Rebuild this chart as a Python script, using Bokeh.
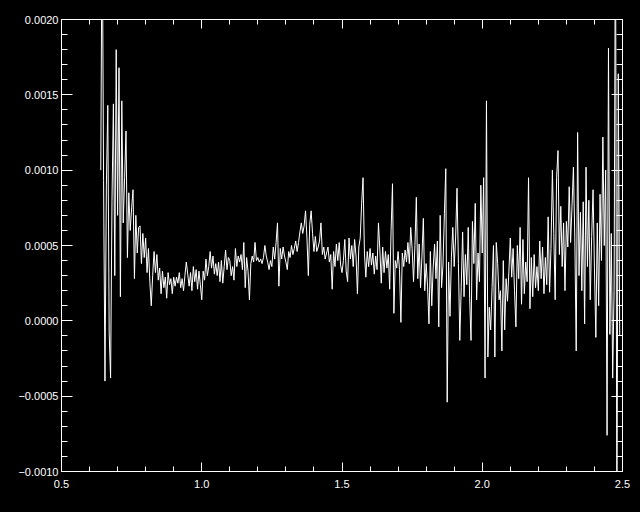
from bokeh.plotting import figure
from bokeh.models import Range1d, FixedTicker, LinearAxis, CustomJSTickFormatter
from bokeh.embed import file_html
from bokeh.resources import INLINE
import numpy as np

# wavelength samples (x)
wavelength = [
    0.640, 0.645, 0.650, 0.655, 0.660, 0.665, 0.670, 0.675, 0.680, 0.685, 0.690, 0.695,
    0.700, 0.705, 0.710, 0.715, 0.720, 0.725, 0.730, 0.735, 0.740, 0.745, 0.750, 0.755, 0.760, 0.765, 0.770, 0.775, 0.780, 0.785, 0.790, 0.795,
    0.800, 0.805, 0.810, 0.815, 0.820, 0.825, 0.830, 0.835, 0.840, 0.845, 0.850, 0.855, 0.860, 0.865, 0.870, 0.875, 0.880, 0.885, 0.890, 0.895,
    0.900, 0.905, 0.910, 0.915, 0.920, 0.925, 0.930, 0.935, 0.940, 0.945, 0.950, 0.955, 0.960, 0.965, 0.970, 0.975, 0.980, 0.985, 0.990, 0.995,
    1.000, 1.005, 1.010, 1.015, 1.020, 1.025, 1.030, 1.035, 1.040, 1.045, 1.050, 1.055, 1.060, 1.065, 1.070, 1.075, 1.080, 1.085, 1.090, 1.095,
    1.100, 1.105, 1.110, 1.115, 1.120, 1.125, 1.130, 1.135, 1.140, 1.145, 1.150, 1.155, 1.160, 1.165, 1.170, 1.175, 1.180, 1.185, 1.190, 1.195,
    1.200, 1.205, 1.210, 1.215, 1.220, 1.225, 1.230, 1.235, 1.240, 1.245, 1.250, 1.255, 1.260, 1.265, 1.270, 1.275, 1.280, 1.285, 1.290, 1.295,
    1.300, 1.305, 1.310, 1.315, 1.320, 1.325, 1.330, 1.335, 1.340, 1.345, 1.350, 1.355, 1.360, 1.365, 1.370, 1.375, 1.380, 1.385, 1.390, 1.395,
    1.400, 1.405, 1.410, 1.415, 1.420, 1.425, 1.430, 1.435, 1.440, 1.445, 1.450, 1.455, 1.460, 1.465, 1.470, 1.475, 1.480, 1.485, 1.490, 1.495,
    1.500, 1.505, 1.510, 1.515, 1.520, 1.525, 1.530, 1.535, 1.540, 1.545, 1.550, 1.555, 1.560, 1.565, 1.570, 1.575, 1.580, 1.585, 1.590, 1.595,
    1.600, 1.605, 1.610, 1.615, 1.620, 1.625, 1.630, 1.635, 1.640, 1.645, 1.650, 1.655, 1.660, 1.665, 1.670, 1.675, 1.680, 1.685, 1.690, 1.695,
    1.700, 1.705, 1.710, 1.715, 1.720, 1.725, 1.730, 1.735, 1.740, 1.745, 1.750, 1.755, 1.760, 1.765, 1.770, 1.775, 1.780, 1.785, 1.790, 1.795,
    1.800, 1.805, 1.810, 1.815, 1.820, 1.825, 1.830, 1.835, 1.840, 1.845, 1.850, 1.855, 1.860, 1.865, 1.870, 1.875, 1.880, 1.885, 1.890, 1.895,
    1.900, 1.905, 1.910, 1.915, 1.920, 1.925, 1.930, 1.935, 1.940, 1.945, 1.950, 1.955, 1.960, 1.965, 1.970, 1.975, 1.980, 1.985, 1.990, 1.995,
    2.000, 2.005, 2.010, 2.015, 2.020, 2.025, 2.030, 2.035, 2.040, 2.045, 2.050, 2.055, 2.060, 2.065, 2.070, 2.075, 2.080, 2.085, 2.090, 2.095,
    2.100, 2.105, 2.110, 2.115, 2.120, 2.125, 2.130, 2.135, 2.140, 2.145, 2.150, 2.155, 2.160, 2.165, 2.170, 2.175, 2.180, 2.185, 2.190, 2.195,
    2.200, 2.205, 2.210, 2.215, 2.220, 2.225, 2.230, 2.235, 2.240, 2.245, 2.250, 2.255, 2.260, 2.265, 2.270, 2.275, 2.280, 2.285, 2.290, 2.295,
    2.300, 2.305, 2.310, 2.315, 2.320, 2.325, 2.330, 2.335, 2.340, 2.345, 2.350, 2.355, 2.360, 2.365, 2.370, 2.375, 2.380, 2.385, 2.390, 2.395,
    2.400, 2.405, 2.410, 2.415, 2.420, 2.425, 2.430, 2.435, 2.440, 2.445, 2.450, 2.455, 2.460, 2.465, 2.470, 2.475, 2.480, 2.485, 2.490,
]

# signal in units of 1e-4
signal_e4 = [
    10.0, 28.0, 9.3, -4.0, 9.0, 14.3, -0.8, -3.8, 8.0, 14.4, 3.0, 18.0,
    7.0, 16.8, 1.6, 14.6, 6.5, 9.5, 12.6, 4.2, 8.5, 6.0, 7.5, 8.7, 2.8, 7.0, 4.5, 6.2, 6.3, 3.8, 5.8, 4.2,
    5.5, 3.2, 4.8, 2.6, 1.0, 3.0, 4.6, 3.2, 4.4, 2.7, 3.5, 1.8, 3.3, 2.2, 2.9, 1.5, 3.2, 2.4, 2.8, 1.8,
    2.9, 2.3, 2.9, 2.5, 3.2, 2.2, 2.8, 2.0, 3.0, 3.9, 3.1, 2.3, 3.2, 2.0, 3.6, 2.6, 3.4, 2.1, 3.3, 2.4,
    1.4, 3.3, 2.7, 4.1, 3.0, 3.6, 4.6, 3.5, 4.3, 3.1, 3.8, 3.0, 3.9, 2.6, 4.0, 2.5, 3.6, 4.7, 3.4, 4.2,
    4.0, 3.0, 3.6, 2.7, 4.8, 3.6, 4.3, 3.9, 4.4, 3.4, 5.2, 2.2, 4.2, 3.3, 1.4, 3.8, 4.3, 3.9, 5.2, 4.0,
    4.2, 3.9, 4.1, 3.8, 4.2, 5.0, 4.3, 3.9, 3.4, 4.0, 3.6, 4.9, 4.1, 5.2, 6.5, 2.3, 4.8, 4.1, 4.9, 4.3,
    3.9, 3.4, 4.6, 4.2, 5.0, 4.4, 4.8, 5.3, 4.6, 5.2, 5.9, 6.5, 5.8, 6.3, 7.3, 5.5, 3.0, 6.4, 7.3, 5.8,
    4.6, 5.6, 4.6, 4.9, 5.3, 6.5, 4.4, 4.9, 4.1, 4.5, 4.9, 3.9, 4.4, 2.1, 4.6, 3.6, 5.1, 4.0, 5.2, 3.7,
    3.2, 4.0, 5.4, 3.3, 2.6, 5.5, 4.1, 5.0, 3.6, 5.4, 4.3, 1.8, 4.9, 5.5, 7.8, 9.5, 4.5, 2.9, 4.6, 3.6,
    4.8, 3.7, 4.5, 3.1, 4.3, 3.4, 6.5, 4.7, 2.5, 4.9, 3.2, 4.6, 3.5, 4.4, 2.1, 6.0, 9.1, 0.5, 4.0, 3.5,
    4.6, 3.4, -0.1, 4.5, 3.6, 4.7, 3.9, 5.2, 3.8, 6.2, 4.8, 2.6, 5.0, 8.2, 2.8, 5.1, 2.2, 4.3, 6.8, 2.0,
    3.8, 2.3, -0.2, 4.6, 1.0, 3.5, 5.1, 2.8, 5.3, -0.4, 7.0, 2.2, 3.7, 7.1, 10.1, -5.4, 3.9, 0.3, 4.2, 6.2,
    3.6, 5.5, 8.8, 3.8, -1.3, 2.2, 5.9, 1.6, 4.4, 2.4, 6.2, 1.5, -1.3, 6.6, 3.8, 7.8, 1.4, 4.5, 2.6, 9.0,
    4.5, 9.5, -3.8, 14.6, -2.4, 0.9, -0.6, 2.2, 5.0, -2.4, 5.2, 3.8, 1.4, 2.0, -2.0, 4.0, -0.6, 2.8, 1.3, 3.3,
    5.5, 2.9, 4.8, 2.0, -0.4, 5.0, 2.8, 6.2, 1.1, 5.4, 1.8, 3.9, 2.6, 9.5, 0.8, 4.2, 1.6, 4.4, 2.2, 3.6,
    2.0, 5.3, 2.8, 4.9, 1.8, 4.2, 2.4, 6.9, 1.9, 4.8, 10.0, 5.8, 1.4, 9.5, 11.3, 4.4, 7.6, 3.6, 6.5, 2.0,
    6.6, 4.9, 8.9, 5.2, 7.6, 10.2, 5.5, -2.0, 12.5, 3.0, 7.2, 2.0, 7.9, -0.2, 10.2, 3.6, 8.0, 1.4, 5.6, 8.7,
    3.5, -1.1, 6.5, 1.0, 8.4, 4.0, 12.2, 5.0, 10.0, -7.6, 18.1, -0.9, 5.8, -3.8, 2.0, 28.0, -15.0, 16.4, -1.0,
]

x_major_ticks = [0.5, 1.0, 1.5, 2.0, 2.5]
y_major_ticks = [-0.0010, -0.0005, 0.0, 0.0005, 0.0010, 0.0015, 0.0020]

x = np.array(wavelength)
y = np.array(signal_e4) * 1e-4

x_minor = list(np.round(np.arange(0.5, 2.5001, 0.1), 4))
y_minor = list(np.round(np.arange(-0.0010, 0.00200001, 0.0001), 6))

FONT = "Liberation Sans"
FS = "11px"
WHITE = "#ffffff"

p = figure(width=640, height=512, output_backend="svg", toolbar_location=None,
           x_range=Range1d(0.5, 2.5), y_range=Range1d(-0.0010, 0.0020),
           x_axis_location=None, y_axis_location=None,
           min_border_left=61, min_border_right=18, min_border_top=19, min_border_bottom=41)
p.background_fill_color = "#000000"
p.border_fill_color = "#000000"
p.outline_line_color = None
p.xgrid.visible = False
p.ygrid.visible = False

xfmt = CustomJSTickFormatter(code="return tick.toFixed(1);")
yfmt = CustomJSTickFormatter(code="""
var v = Math.abs(tick) < 1e-12 ? 0 : tick;
return (v < 0 ? "\\u2212" : "") + Math.abs(v).toFixed(4);
""")

def style(ax, labels, major_len, minor_len):
    ax.axis_line_color = WHITE
    ax.axis_line_width = 1
    ax.major_tick_line_color = WHITE
    ax.minor_tick_line_color = WHITE
    ax.major_tick_in = major_len
    ax.major_tick_out = 0
    ax.minor_tick_in = minor_len
    ax.minor_tick_out = 0
    ax.major_label_text_font = FONT
    if labels:
        ax.major_label_text_color = WHITE
        ax.major_label_text_font_size = FS
    else:
        ax.major_label_text_color = None
        ax.major_label_text_font_size = "1px"
        ax.major_label_standoff = 0

xt = FixedTicker(ticks=x_major_ticks, minor_ticks=x_minor)
yt = FixedTicker(ticks=y_major_ticks, minor_ticks=y_minor)

bottom = LinearAxis(ticker=xt, formatter=xfmt)
style(bottom, True, 9, 5)
bottom.major_label_standoff = 8
top = LinearAxis(ticker=xt, formatter=xfmt)
style(top, False, 9, 5)
left = LinearAxis(ticker=yt, formatter=yfmt)
style(left, True, 11, 6)
left.major_label_standoff = 3
right = LinearAxis(ticker=yt, formatter=yfmt)
style(right, False, 11, 6)

p.add_layout(bottom, "below")
p.add_layout(top, "above")
p.add_layout(left, "left")
p.add_layout(right, "right")

p.line(x, y, line_color=WHITE, line_width=1)

html = file_html(p, INLINE)
html = html.replace("</head>", "<style>html,body{background:#000000;}</style></head>", 1)
open("out.html", "w").write(html)
